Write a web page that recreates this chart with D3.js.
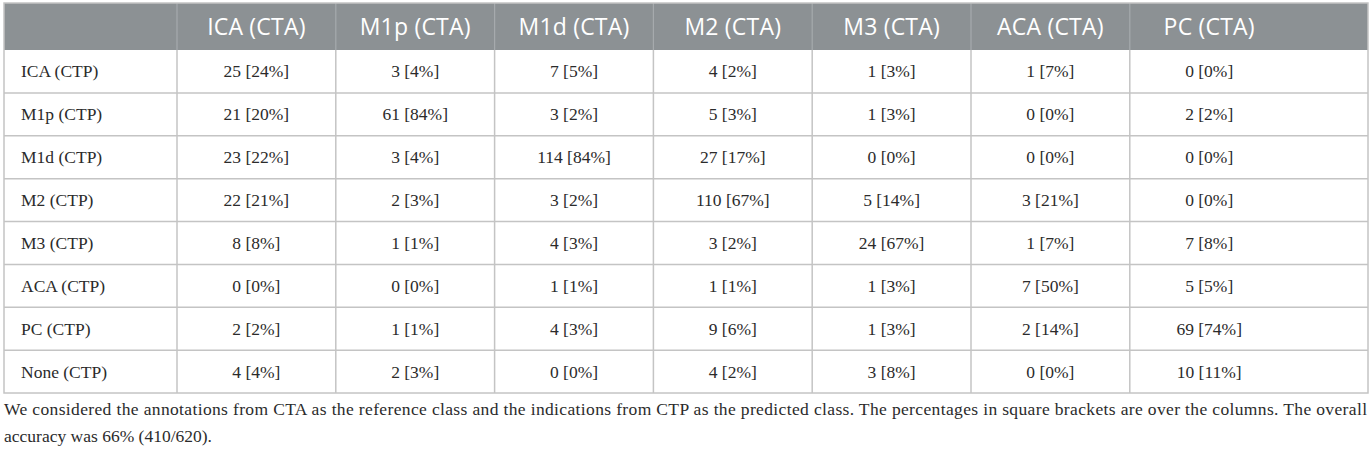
<!DOCTYPE html>
<html>
<head>
<meta charset="utf-8">
<script src="https://cdn.jsdelivr.net/npm/d3@7"></script>
<style>
  body { margin: 0; background: #fff; }
  svg { display: block; }
</style>
</head>
<body>
<div id="container"></div>
<script>
// Column classes (reference, CTA) and row classes (predicted, CTP)
const colLabels = ['ICA (CTA)', 'M1p (CTA)', 'M1d (CTA)', 'M2 (CTA)', 'M3 (CTA)', 'ACA (CTA)', 'PC (CTA)'];
const rowLabels = ['ICA (CTP)', 'M1p (CTP)', 'M1d (CTP)', 'M2 (CTP)', 'M3 (CTP)', 'ACA (CTP)', 'PC (CTP)', 'None (CTP)'];

// counts per row
const counts = [
  [25, 3, 7, 4, 1, 1, 0],
  [21, 61, 3, 5, 1, 0, 2],
  [23, 3, 114, 27, 0, 0, 0],
  [22, 2, 3, 110, 5, 3, 0],
  [8, 1, 4, 3, 24, 1, 7],
  [0, 0, 1, 1, 1, 7, 5],
  [2, 1, 4, 9, 1, 2, 69],
  [4, 2, 0, 4, 3, 0, 10]
];

// column percentages per row
const percents = [
  [24, 4, 5, 2, 3, 7, 0],
  [20, 84, 2, 3, 3, 0, 2],
  [22, 4, 84, 17, 0, 0, 0],
  [21, 3, 2, 67, 14, 21, 0],
  [8, 1, 3, 2, 67, 7, 8],
  [0, 0, 1, 1, 3, 50, 5],
  [2, 1, 3, 6, 3, 14, 74],
  [4, 3, 0, 2, 8, 0, 11]
];

const captionLines = [
  'We considered the annotations from CTA as the reference class and the indications from CTP as the predicted class. The percentages in square brackets are over the columns. The overall',
  'accuracy was 66% (410/620).'
];

const width = 1372, height = 450;
const tLeft = 4, tRight = 1368, tTop = 3, headerBottom = 50, tBottom = 393;
const labelColRight = 177;
const colW = 158.8;

const svg = d3.select('#container').append('svg')
  .attr('width', width)
  .attr('height', height);

const x = d3.scaleBand()
  .domain(colLabels)
  .range([labelColRight, labelColRight + colW * colLabels.length]);

const y = d3.scaleBand()
  .domain(rowLabels)
  .range([headerBottom, tBottom]);

const gridColor = '#c4c4c4';
const textColor = '#2b2b2b';

// header background
svg.append('rect')
  .attr('x', tLeft).attr('y', tTop)
  .attr('width', tRight - tLeft).attr('height', headerBottom - tTop)
  .attr('fill', '#8c9194');

// header separators
svg.append('g').selectAll('line')
  .data(colLabels)
  .join('line')
  .attr('x1', d => x(d)).attr('x2', d => x(d))
  .attr('y1', tTop).attr('y2', headerBottom)
  .attr('stroke', '#a6aaad')
  .attr('stroke-width', 1.2);

// header labels
svg.append('g').selectAll('text')
  .data(colLabels)
  .join('text')
  .attr('x', d => x(d) + x.bandwidth() / 2)
  .attr('y', 35)
  .attr('text-anchor', 'middle')
  .attr('font-family', '"Open Sans", sans-serif')
  .attr('font-size', '23px')
  .attr('letter-spacing', '0.2px')
  .attr('fill', '#fff')
  .text(d => d);

// body grid: horizontal lines
svg.append('g').selectAll('line')
  .data(rowLabels.slice(1))
  .join('line')
  .attr('x1', tLeft).attr('x2', tRight)
  .attr('y1', d => y(d)).attr('y2', d => y(d))
  .attr('stroke', gridColor)
  .attr('stroke-width', 1.5);

// body grid: vertical lines
svg.append('g').selectAll('line')
  .data(colLabels)
  .join('line')
  .attr('x1', d => x(d)).attr('x2', d => x(d))
  .attr('y1', headerBottom).attr('y2', tBottom)
  .attr('stroke', gridColor)
  .attr('stroke-width', 1.5);

// outer border
svg.append('rect')
  .attr('x', tLeft).attr('y', tTop)
  .attr('width', tRight - tLeft).attr('height', tBottom - tTop)
  .attr('fill', 'none')
  .attr('stroke', gridColor)
  .attr('stroke-width', 1.5);

// row labels
svg.append('g').selectAll('text')
  .data(rowLabels)
  .join('text')
  .attr('x', 21)
  .attr('y', d => y(d) + y.bandwidth() / 2 + 6)
  .attr('font-family', '"Liberation Serif", serif')
  .attr('font-size', '17.5px')
  .attr('fill', textColor)
  .text(d => d);

// cells
const rows = svg.append('g').selectAll('g')
  .data(rowLabels)
  .join('g')
  .attr('transform', d => `translate(0,${y(d) + y.bandwidth() / 2 + 6})`);

rows.selectAll('text')
  .data((r, i) => colLabels.map((c, j) => ({ col: c, n: counts[i][j], p: percents[i][j] })))
  .join('text')
  .attr('x', d => x(d.col) + x.bandwidth() / 2)
  .attr('text-anchor', 'middle')
  .attr('font-family', '"Liberation Serif", serif')
  .attr('font-size', '17.5px')
  .attr('fill', textColor)
  .text(d => `${d.n} [${d.p}%]`);

// caption
svg.append('g').selectAll('text')
  .data(captionLines)
  .join('text')
  .attr('x', tLeft)
  .attr('y', (d, i) => 415 + i * 27)
  .attr('font-family', '"Liberation Serif", serif')
  .attr('font-size', '17.5px')
  .attr('fill', textColor)
  .each(function (d, i) {
    if (i === 0) d3.select(this).attr('textLength', tRight - tLeft - 1).attr('lengthAdjust', 'spacing');
  })
  .text(d => d);
</script>
</body>
</html>
